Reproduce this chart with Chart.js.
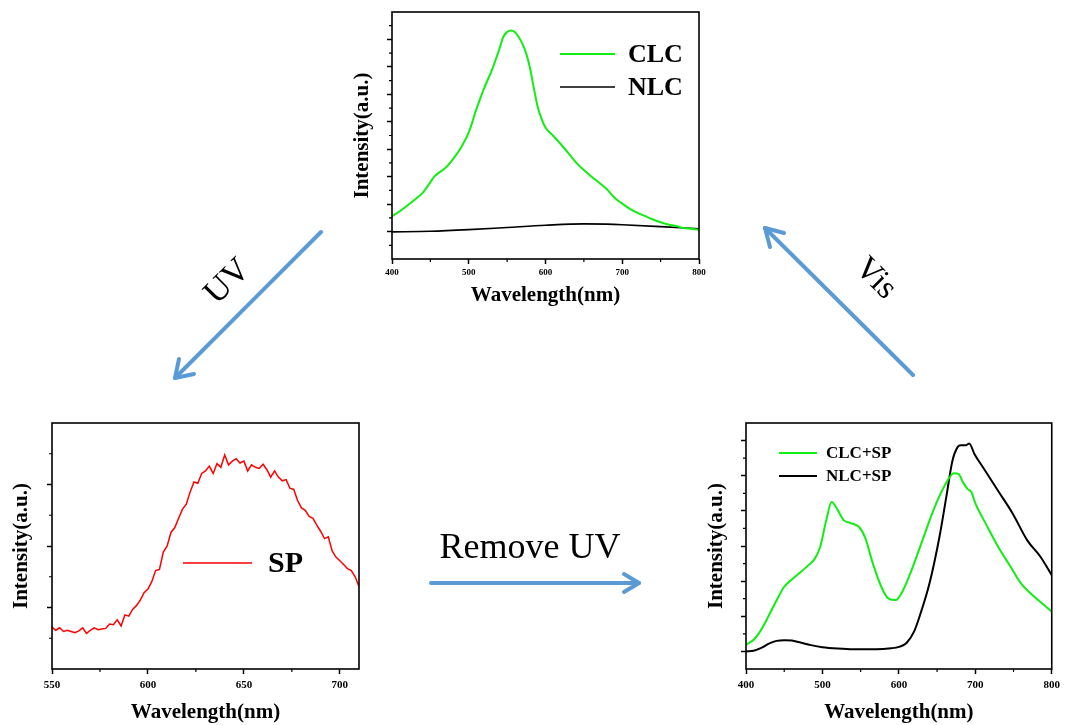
<!DOCTYPE html>
<html>
<head>
<meta charset="utf-8">
<script src="https://cdn.jsdelivr.net/npm/chart.js@4.4.1/dist/chart.umd.min.js"></script>
<style>
  body { margin: 0; background: #fff; }
  #stage { position: relative; width: 1065px; height: 725px; overflow: hidden; background: #fff; }
  #stage canvas { position: absolute; }
  #stage svg { position: absolute; left: 0; top: 0; pointer-events: none; }
</style>
</head>
<body>
<div id="stage">
  <canvas id="chartTop" width="370" height="310" style="left:340px;top:0px"></canvas>
  <canvas id="chartSp" width="370" height="315" style="left:0px;top:410px"></canvas>
  <canvas id="chartMix" width="365" height="315" style="left:700px;top:410px"></canvas>
  <svg width="1065" height="725">
    <g stroke="#5b9bd5" stroke-width="4" fill="none" stroke-linecap="round" stroke-linejoin="round">
      <line x1="321" y1="232" x2="175" y2="378"/>
      <polyline points="179,359 175,378 194,374"/>
      <line x1="913" y1="375" x2="765" y2="228"/>
      <polyline points="770,247 765,228 784,233"/>
      <line x1="431" y1="583" x2="639" y2="583"/>
      <polyline points="624,574 639,583 624,592"/>
    </g>
    <g font-family="Liberation Serif, Times New Roman, serif" fill="#000">
      <text x="226" y="280" font-size="34" text-anchor="middle" dominant-baseline="central" transform="rotate(-45 226 280)">UV</text>
      <text x="877" y="277" font-size="33" text-anchor="middle" dominant-baseline="central" transform="rotate(45 877 277)">Vis</text>
      <text x="530" y="558" font-size="36" text-anchor="middle">Remove UV</text>
    </g>
  </svg>
</div>
<script>
// top panel: CLC / NLC
const clcTopWl = [400,410,420,430,440,450,455,460,470,480,490,500,510,520,530,540,545,550,555,560,565,570,575,580,585,590,595,600,610,620,630,640,650,660,670,680,690,700,710,720,730,740,750,760,770,780,790,800];
const clcTopVal = [1.56,1.74,1.95,2.17,2.41,2.80,3.00,3.12,3.33,3.66,4.06,4.61,5.46,6.22,6.87,7.66,8.09,8.27,8.33,8.27,8.09,7.84,7.48,6.93,6.20,5.52,5.10,4.79,4.49,4.18,3.85,3.51,3.24,3.00,2.78,2.54,2.23,2.02,1.83,1.68,1.56,1.44,1.34,1.26,1.20,1.13,1.10,1.07];
const nlcTopWl = [400,450,500,550,600,650,680,700,750,800];
const nlcTopVal = [0.99,1.01,1.07,1.15,1.23,1.28,1.27,1.25,1.18,1.10];

// bottom-left panel: SP
const spWl = [550,552,554,556,558,560,562,564,566,568,570,572,574,576,578,580,582,584,586,588,590,592,594,596,598,600,602,604,606,608,610,612,614,616,618,620,622,624,626,628,630,632,634,636,638,640,642,644,646,648,650,652,654,656,658,660,662,664,666,668,670,672,674,676,678,680,682,684,686,688,690,692,694,696,698,700,702,704,706,708,710];
const spVal = [0.68,0.63,0.67,0.61,0.63,0.61,0.59,0.62,0.67,0.58,0.63,0.67,0.64,0.65,0.66,0.73,0.72,0.80,0.70,0.88,0.86,0.97,1.03,1.12,1.24,1.30,1.42,1.60,1.62,1.90,2.00,2.22,2.30,2.45,2.60,2.68,2.88,3.04,3.02,3.18,3.22,3.30,3.18,3.34,3.28,3.48,3.32,3.38,3.42,3.35,3.38,3.22,3.32,3.28,3.26,3.33,3.24,3.12,3.22,3.12,3.06,3.08,2.94,2.92,2.74,2.62,2.58,2.48,2.45,2.34,2.24,2.12,2.15,1.92,1.82,1.76,1.70,1.63,1.60,1.50,1.34];

// bottom-right panel: CLC+SP / NLC+SP
const clcMixWl = [400,410,420,430,440,450,460,470,480,490,497,505,512,520,528,536,548,556,566,577,586,596,605,615,630,645,660,672,678,684,690,695,700,715,730,745,760,775,790,800];
const clcMixVal = [0.19,0.33,0.62,1.03,1.45,1.84,2.05,2.23,2.42,2.64,2.97,3.73,4.25,4.02,3.73,3.66,3.54,3.23,2.50,1.84,1.51,1.46,1.72,2.22,3.11,4.01,4.72,5.07,5.05,4.81,4.62,4.53,4.22,3.58,2.97,2.45,1.93,1.60,1.32,1.13];
const nlcMixWl = [400,410,420,430,440,450,460,470,485,500,520,540,570,590,600,610,620,627,640,653,662,670,677,681,688,692,699,710,731,749,768,785,800];
const nlcMixVal = [0.0,0.02,0.10,0.22,0.30,0.32,0.31,0.26,0.18,0.12,0.08,0.06,0.06,0.09,0.13,0.24,0.57,0.99,1.93,3.25,4.39,5.42,5.82,5.87,5.87,5.92,5.61,5.24,4.53,3.92,3.16,2.70,2.17];

// ticks
const topXTicks = [400,500,600,700,800];
const topXMinor = [450,550,650,750];
const topYTicks = [1,2,3,4,5,6,7,8];
const topYMinor = [0.5,1.5,2.5,3.5,4.5,5.5,6.5,7.5,8.5];
const spXTicks = [550,600,650,700];
const spXMinor = [575,625,675];
const spYTicks = [1,2,3];
const spYMinor = [0.5,1.5,2.5,3.5];
const mixXTicks = [400,500,600,700,800];
const mixXMinor = [450,550,650,750];
const mixYTicks = [0,1,2,3,4,5,6];
const mixYMinor = [0.5,1.5,2.5,3.5,4.5,5.5];

const serif = "'Liberation Serif', 'Times New Roman', serif";
const green = '#11ee11';

function pts(xs, ys) {
  return xs.map((x, i) => ({ x: x, y: ys[i] }));
}

const framePlugin = {
  id: 'frame',
  afterDatasetsDraw(chart, args, opts) {
    const { ctx, chartArea: a, scales } = chart;
    ctx.save();
    ctx.strokeStyle = '#000';
    ctx.lineWidth = 1.6;
    ctx.strokeRect(a.left, a.top, a.right - a.left, a.bottom - a.top);
    ctx.lineWidth = 1.2;
    ctx.beginPath();
    (opts.xMinor || []).forEach(v => {
      const px = scales.x.getPixelForValue(v);
      ctx.moveTo(px, a.bottom);
      ctx.lineTo(px, a.bottom + 3);
    });
    (opts.yMinor || []).forEach(v => {
      const py = scales.y.getPixelForValue(v);
      ctx.moveTo(a.left, py);
      ctx.lineTo(a.left - 3, py);
    });
    ctx.stroke();
    ctx.restore();
  }
};

const lineLegend = {
  id: 'lineLegend',
  afterDraw(chart, args, o) {
    const ctx = chart.ctx;
    ctx.save();
    ctx.font = o.font;
    ctx.textBaseline = 'middle';
    ctx.fillStyle = '#000';
    chart.data.datasets.forEach((ds, i) => {
      const y = o.y + i * o.dy;
      ctx.strokeStyle = ds.borderColor;
      ctx.lineWidth = ds.borderWidth;
      ctx.beginPath();
      ctx.moveTo(o.x, y);
      ctx.lineTo(o.x + o.len, y);
      ctx.stroke();
      ctx.fillText(ds.label, o.x + o.len + o.gap, y + 1);
    });
    ctx.restore();
  }
};

function buildChart(id, p) {
  const grid = { drawOnChartArea: false, tickLength: 5, tickWidth: 1.5, tickColor: '#000' };
  return new Chart(document.getElementById(id), {
    type: 'line',
    data: { datasets: p.datasets },
    plugins: [framePlugin, lineLegend],
    options: {
      responsive: false,
      animation: false,
      layout: { padding: { top: p.padTop, right: p.padRight, left: 0, bottom: 0 } },
      elements: { point: { radius: 0 } },
      plugins: {
        legend: { display: false },
        tooltip: { enabled: false },
        frame: { xMinor: p.xMinor, yMinor: p.yMinor },
        lineLegend: p.legend
      },
      scales: {
        x: {
          type: 'linear',
          min: p.xMin,
          max: p.xMax,
          afterBuildTicks: s => { s.ticks = p.xTicks.map(v => ({ value: v })); },
          afterFit: s => { s.height = p.xAxisH; },
          border: { display: false },
          grid: grid,
          ticks: { color: '#000', autoSkip: false, maxRotation: 0, padding: p.tickPad,
                   font: { family: serif, weight: 'bold', size: p.tickSize } },
          title: { display: true, text: 'Wavelength(nm)', color: '#000',
                   padding: { top: 0, bottom: p.xTitlePad },
                   font: { family: serif, weight: 'bold', size: 21 } }
        },
        y: {
          type: 'linear',
          min: p.yMin,
          max: p.yMax,
          afterBuildTicks: s => { s.ticks = p.yTicks.map(v => ({ value: v })); },
          afterFit: s => { s.width = p.yAxisW; },
          border: { display: false },
          grid: grid,
          ticks: { display: false },
          title: { display: true, text: 'Intensity(a.u.)', color: '#000',
                   padding: { top: p.yTitlePad, bottom: 0 },
                   font: { family: serif, weight: 'bold', size: 21 } }
        }
      }
    }
  });
}

buildChart('chartTop', {
  datasets: [
    { label: 'CLC', data: pts(clcTopWl, clcTopVal), borderColor: green, borderWidth: 2, cubicInterpolationMode: 'monotone' },
    { label: 'NLC', data: pts(nlcTopWl, nlcTopVal), borderColor: '#000', borderWidth: 1.6, cubicInterpolationMode: 'monotone' }
  ],
  xMin: 400, xMax: 800, xTicks: topXTicks, xMinor: topXMinor,
  yMin: 0, yMax: 9, yTicks: topYTicks, yMinor: topYMinor,
  padTop: 12, padRight: 11, yAxisW: 52, xAxisH: 51,
  tickSize: 9, tickPad: 3, xTitlePad: 2, yTitlePad: 10,
  legend: { x: 220, y: 54, dy: 33, len: 55, gap: 13, font: 'bold 26px ' + serif }
});

buildChart('chartSp', {
  datasets: [
    { label: 'SP', data: pts(spWl, spVal), borderColor: '#ff0000', borderWidth: 1.5, tension: 0 }
  ],
  xMin: 550, xMax: 710, xTicks: spXTicks, xMinor: spXMinor,
  yMin: 0, yMax: 4, yTicks: spYTicks, yMinor: spYMinor,
  padTop: 13, padRight: 11, yAxisW: 52, xAxisH: 56,
  tickSize: 11, tickPad: 5, xTitlePad: 0, yTitlePad: 9,
  legend: { x: 183, y: 153, dy: 0, len: 69, gap: 16, font: 'bold 30px ' + serif }
});

buildChart('chartMix', {
  datasets: [
    { label: 'CLC+SP', data: pts(clcMixWl, clcMixVal), borderColor: green, borderWidth: 2, cubicInterpolationMode: 'monotone' },
    { label: 'NLC+SP', data: pts(nlcMixWl, nlcMixVal), borderColor: '#000', borderWidth: 2, cubicInterpolationMode: 'monotone' }
  ],
  xMin: 400, xMax: 800, xTicks: mixXTicks, xMinor: mixXMinor,
  yMin: -0.5, yMax: 6.5, yTicks: mixYTicks, yMinor: mixYMinor,
  padTop: 13, padRight: 12, yAxisW: 46, xAxisH: 56,
  tickSize: 11, tickPad: 5, xTitlePad: 0, yTitlePad: 4,
  legend: { x: 79, y: 43, dy: 23, len: 38, gap: 9, font: 'bold 17px ' + serif }
});
</script>
</body>
</html>
